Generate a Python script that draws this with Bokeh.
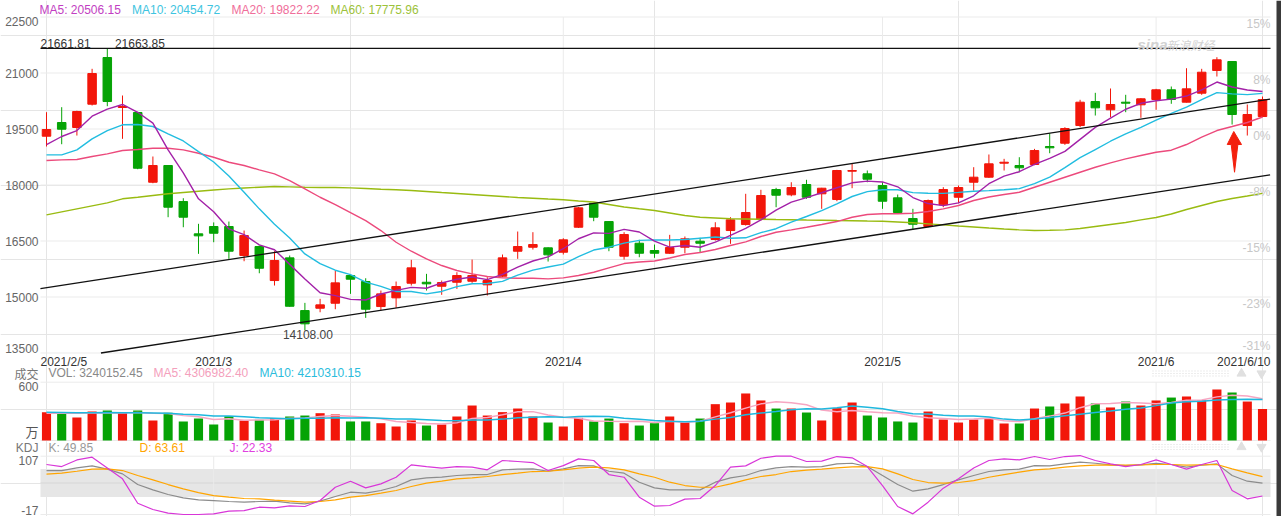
from bokeh.plotting import figure
from bokeh.models import Range1d, Label, ColumnDataSource
from bokeh.embed import file_html
from bokeh.resources import INLINE

# ---------------- data ----------------
dates = ["2021-02-05","2021-02-08","2021-02-09","2021-02-10","2021-02-18","2021-02-19","2021-02-22","2021-02-23","2021-02-24","2021-02-25","2021-02-26",
         "2021-03-01","2021-03-02","2021-03-03","2021-03-04","2021-03-05","2021-03-08","2021-03-09","2021-03-10","2021-03-11","2021-03-12","2021-03-15","2021-03-16","2021-03-17","2021-03-18","2021-03-19","2021-03-22","2021-03-23","2021-03-24","2021-03-25","2021-03-26","2021-03-29","2021-03-30","2021-03-31",
         "2021-04-01","2021-04-02","2021-04-06","2021-04-07","2021-04-08","2021-04-09","2021-04-12","2021-04-13","2021-04-14","2021-04-15","2021-04-16","2021-04-19","2021-04-20","2021-04-21","2021-04-22","2021-04-23","2021-04-26","2021-04-27","2021-04-28","2021-04-29","2021-04-30",
         "2021-05-06","2021-05-07","2021-05-10","2021-05-11","2021-05-12","2021-05-13","2021-05-14","2021-05-17","2021-05-18","2021-05-19","2021-05-20","2021-05-21","2021-05-24","2021-05-25","2021-05-26","2021-05-27","2021-05-28","2021-05-31",
         "2021-06-01","2021-06-02","2021-06-03","2021-06-04","2021-06-07","2021-06-08","2021-06-09","2021-06-10"]

open_p = [19307,19674,19540,20164,21415,20076,19942,18074,18522,17557,16692,16888,16888,16111,16352,15441,16049,14637,14699,14833,
          15575,15414,14744,14977,15369,15395,15288,15395,15422,15326,15556,16226,16333,16317,16199,16869,17512,17021,16092,16440,
          16245,16172,16333,16494,16540,16780,16941,17075,17879,17737,18013,17764,17611,18369,18299,17986,17656,17102,16888,17469,
          17672,18074,18209,18584,18522,18549,19031,19119,19593,20236,20014,20218,20148,20290,20550,20218,20459,21067,21308,19593,19834]
high_p = [19950,20084,19990,21112,21663.85,20397,19960,18763,18530,17646,16960,16998,17021,16780,16380,16226,16111,14843,14951,15709,
          15590,15502,15173,15414,15995,15620,15441,15664,16003,15530,16138,16754,16736,16330,16574,17410,17520,17030,16736,16531,
          16405,16665,16620,16585,17003,17137,17764,17871,17924,18074,18139,17924,18406,18567,18388,18074,17745,17362,17611,17941,
          17986,18477,18817,18701,18744,18968,19387,19548,20282,20469,20585,20416,20325,20576,20638,21128,21112,21423,21315,20156,20370]
low_p = [19031,19092,19325,20129,20110,19237,18423,18047,17137,16869,16156,16467,16022,15958,15636,15307,14740,14108.00,14591,14672,
         15084,14442,14637,14710,15307,15173,15058,15218,15379,15039,15530,16022,16271,15950,16138,16850,17030,16226,16003,16065,
         16049,16156,16172,16199,16512,16424,16914,17048,17405,17699,17630,17362,17566,17914,18074,17362,17228,16807,16869,17405,
         17512,17852,18191,18388,18342,18530,18851,19075,19548,19861,19816,19950,19800,20014,20175,20210,20416,20906,19620,19325,19816]
close_p = [19486,19494,19968,20986,20236,20102,18449,18522,17405,17137,16638,16708,16226,16646,15770,15977,14752,14281,14790,15379,
           15476,14672,15084,15280,15781,15352,15387,15575,15575,15441,16049,16352,16405,16129,16531,17388,17137,16333,16673,16172,
           16172,16325,16558,16440,16853,17067,17263,17718,17726,17932,17672,17914,18388,18388,18155,17565,17263,16949,17584,17879,
           17932,18209,18567,18610,18460,18923,18996,19513,20218,20067,20156,20191,20309,20550,20290,20576,21021,21353,19888,19888,20290]

ma5 = [19084,19299,19459,19842,20034,20157,19948,19659,18943,18323,17630,17282,16823,16671,16398,16265,15874,15485,15114,15036,
       14936,14920,15080,15178,15259,15234,15377,15475,15534,15466,15605,15798,15964,16075,16293,16561,16718,16704,16812,16741,
       16497,16335,16380,16333,16470,16649,16836,17068,17325,17541,17662,17792,17926,18059,18103,18082,17952,17664,17503,17448,
       17521,17711,18034,18239,18356,18554,18711,18900,19222,19543,19790,20029,20188,20255,20299,20383,20549,20758,20626,20545,20506.15]
ma10 = [18808,18808,18942,19237,19459,19612,19620,19567,19371,19179,18894,18615,18241,17807,17361,16948,16578,16154,15893,15717,
        15601,15397,15283,15146,15148,15085,15149,15278,15356,15363,15420,15588,15720,15805,15880,16083,16258,16334,16444,16517,
        16529,16527,16542,16573,16606,16573,16586,16724,16829,17006,17156,17314,17497,17692,17822,17872,17872,17795,17781,17776,
        17802,17832,17849,17871,17902,18038,18211,18467,18731,18950,19172,19370,19544,19739,19921,20087,20289,20473,20441,20422,20454.72]
ma20 = [18656,18674,18682,18763,18835,18923,18950,18985,18985,18942,18851,18744,18610,18522,18406,18299,18120,17898,17672,17477,
        17263,17048,16780,16467,16226,16022,15843,15709,15620,15548,15513,15502,15502,15486,15513,15575,15663,15781,15896,15936,
        15963,16044,16138,16191,16271,16379,16478,16620,16735,16799,16869,16941,17021,17137,17209,17228,17228,17244,17289,17362,
        17450,17584,17678,17745,17806,17940,18074,18208,18342,18476,18594,18701,18790,18878,18932,19084,19280,19459,19566,19674,19822.22]
ma60 = [17201,17281,17362,17442,17522,17630,17672,17718,17764,17798,17833,17865,17897,17919,17940,17959,17951,17940,17932,17932,
        17924,17906,17887,17871,17852,17825,17798,17772,17745,17718,17691,17664,17646,17624,17603,17571,17544,17477,17410,17362,
        17316,17249,17182,17137,17115,17094,17088,17083,17075,17070,17062,17056,17048,17043,17035,17030,17008,16987,16960,16933,
        16901,16874,16847,16821,16799,16780,16788,16799,16834,16888,16941,16995,17067,17129,17222,17343,17450,17557,17638,17705,17775.96]

volume_wan = [292,285,237,298,309,285,309,206,285,196,226,165,250,206,213,230,247,257,281,268,
              196,196,178,144,206,154,165,247,360,257,292,329,247,185,144,233,196,226,178,154,
              178,247,189,226,374,391,484,412,329,329,288,206,333,391,257,237,196,185,298,216,
              185,216,226,175,175,329,350,381,453,381,340,401,360,412,442,453,412,525,494,401,324.02]
vol_ma5 = [280,282,280,282,284,283,288,281,279,256,244,216,224,209,212,213,229,231,246,257,
           250,240,224,196,184,176,169,183,226,237,264,297,297,262,239,228,201,197,195,197,
           186,197,189,199,243,285,333,377,398,389,368,313,297,309,295,285,283,253,235,226,
           216,220,228,204,195,224,251,282,338,379,381,391,387,379,391,414,416,449,465,457,430.70]
vol_ma10 = [290,288,286,286,287,285,286,284,280,270,264,252,253,244,234,229,223,228,228,235,
            232,235,228,221,221,213,205,204,211,211,220,233,240,244,238,246,249,247,229,218,
            207,199,193,197,220,236,265,283,299,316,327,323,337,354,342,327,298,275,272,261,
            251,252,241,220,211,220,236,255,271,287,303,321,335,359,385,398,404,418,422,424,421.03]

kdj_k = [76.5,76.5,82,86.4,79.4,69.4,46.7,35.4,25.5,18.4,14,12.7,10.6,9.2,10.6,11.3,7.8,5.6,11.3,21.2,
         30.4,28.3,34,42.5,56.7,61,62.3,65.9,68,68,78,79.4,80,75,80,87,86.4,75,70.8,51.7,
         39.7,35.4,35.4,35.4,51.7,61,65.9,76.5,82,85,83.6,85,90.7,92,85,65.9,46.7,32.6,37.5,46.7,
         56.7,65.9,74.4,78,79.4,87,86.4,90.7,94.2,92,88.6,87,88.6,92,89.3,83.6,87.9,90.7,65.9,53.8,49.85]
kdj_d = [68.7,70.8,75,79.4,80,76.5,65.9,56.7,46.7,37.5,29.7,23.3,19.8,17,16.3,13.4,11.3,9.2,10.6,14,
         19.8,23.3,28.3,34,42.5,49.6,53.8,58.8,61,63.8,68,70.8,74.4,75,78,81.5,83.6,82,78,69.4,
         62.3,51.7,44.6,41,41,48,56.7,63.8,68,74.4,77.2,79.4,82,84.3,85,80,69.4,57.4,51,49.6,
         51,55.2,62.3,68,73,78,80,83.6,86.4,87.9,88.6,87.9,88.6,89.3,89.3,87.9,88.6,89.3,80,71.6,63.61]
kdj_j = [89.3,85,99,105,82,58.8,7,-6.4,-14.2,-17,-17,-15.6,-10,-8.6,-1.5,-3,1.4,0,12.7,41,
         53.8,39.7,48.2,62.3,88.6,85,81.5,85,83.6,78,97.8,95.7,93.5,76.5,87,101.3,97.8,68,62.3,19.8,
         0.7,2.1,15.6,17,44.6,83.6,86.4,102.7,107,107,95.7,96.4,106.3,103.5,85,44.6,0,-15.6,9.2,39,
         58.8,82,97.8,101.3,99.2,106.3,100,106.3,108.4,97.8,90.7,85,89.3,99.2,89.3,79.4,89.3,97.8,34,16.3,22.33]

price_ticks = [22500, 21000, 19500, 18000, 16500, 15000, 13500]
pct_labels = ["15%", "8%", "0%", "-8%", "-15%", "-23%", "-31%"]
vol_ticks = [600, 0]
vol_tick_labels = ["600", "万"]
kdj_ticks = [107, -17]
kdj_band = [20, 80]
kdj_mid = 50

ma_names = ["MA5", "MA10", "MA20", "MA60"]
ma_last = [20506.15, 20454.72, 19822.22, 17775.96]
vol_last, vol_ma5_last, vol_ma10_last = 3240152.45, 4306982.40, 4210310.15
k_last, d_last, j_last = 49.85, 63.61, 22.33
hline_value = 21661.81
upper_x, upper_y = [-0.4, 80.5], [15227, 20298]
lower_x, lower_y = [3.58, 80.5], [13500, 18273]
arrow_x = [78.11, 78.62, 78.38, 78.16, 77.94, 77.68]
arrow_y = [19433, 19084, 19084, 18342, 19084, 19084]

# ---------------- layout ----------------
RED, GREEN = "#f2160a", "#05a305"
LAT, CJK = "Liberation Sans", "Noto Sans CJK SC"
W, H = 1281, 516
OX, OY = 0, 0
X0, DX = 46.0, 15.2


def xi(px):
    return (px - X0) / DX


def vrange(v1, y1, v2, y2):
    k = (v1 - v2) / (y2 - y1)
    return Range1d(v2 - (OY + H - y2) * k, v1 + (y1 - OY) * k)


p = figure(width=W, height=H, x_range=Range1d(xi(OX), xi(OX + W)),
           y_range=vrange(22500, 16.5, 13500, 352.5),
           output_backend="svg", toolbar_location=None,
           x_axis_location=None, y_axis_location=None, min_border=0)
p.outline_line_color = None
p.extra_y_ranges = {"vol": vrange(600, 381.7, 0, 440),
                    "kdj": vrange(107, 455.7, -17, 514),
                    "px": Range1d(OY + H, OY)}
p.extra_x_ranges = {"px": Range1d(OX, OX + W)}

GX0, GX1 = xi(40), xi(1270)
n = len(dates)
idx = list(range(n))
GRID = "#ebebeb"

# horizontal grids
p.segment(x0=[GX0] * len(price_ticks), x1=[GX1] * len(price_ticks), y0=price_ticks, y1=price_ticks, color=GRID, line_width=1)
p.segment(x0=[GX0] * 2, x1=[GX1] * 2, y0=vol_ticks, y1=vol_ticks, color=GRID, line_width=1, y_range_name="vol")
p.quad(left=[GX0], right=[GX1], bottom=[kdj_band[0]], top=[kdj_band[1]], fill_color="#e6e6e6", line_color=None, y_range_name="kdj")
p.segment(x0=[GX0], x1=[GX1], y0=[kdj_mid], y1=[kdj_mid], color="#d6d6d6", line_width=1, y_range_name="kdj")
p.segment(x0=[GX0] * 2, x1=[GX1] * 2, y0=kdj_ticks, y1=kdj_ticks, color=GRID, line_width=1, y_range_name="kdj")

# month gridlines
month_idx = [i for i in range(1, n) if dates[i][5:7] != dates[i - 1][5:7]]
m = len(month_idx)
p.segment(x0=month_idx, x1=month_idx, y0=[price_ticks[-1]] * m, y1=[price_ticks[0]] * m, color=GRID)
p.segment(x0=month_idx, x1=month_idx, y0=[0] * m, y1=[600] * m, color=GRID, y_range_name="vol")
p.segment(x0=month_idx, x1=month_idx, y0=[-17] * m, y1=[107] * m, color=GRID, y_range_name="kdj")

# candles
colors = [RED if c >= o else GREEN for o, c in zip(open_p, close_p)]
src = ColumnDataSource(dict(x=idx, h=high_p, l=low_p,
                            top=[max(o, c) for o, c in zip(open_p, close_p)],
                            bot=[min(o, c) for o, c in zip(open_p, close_p)],
                            color=colors, vol=volume_wan))
p.segment(x0="x", x1="x", y0="l", y1="h", color="color", line_width=1, source=src)
p.vbar(x="x", width=0.56, top="top", bottom="bot", fill_color="color", line_color="color", line_width=1, source=src)

# MA lines
p.line(idx, ma60, color="#99bb11", line_width=1.4)
p.line(idx, ma20, color="#ec4a7c", line_width=1.4)
p.line(idx, ma10, color="#22bde0", line_width=1.4)
p.line(idx, ma5, color="#a321a8", line_width=1.4)

# trend lines / horizontal line
p.line(upper_x, upper_y, color="#111111", line_width=1.3)
p.line(lower_x, lower_y, color="#111111", line_width=1.3)
p.line([GX0, GX1], [hline_value, hline_value], color="#111111", line_width=1.3)

# arrow
p.patch(arrow_x, arrow_y, color="#f3200d")

# volume
p.vbar(x="x", width=0.6, top="vol", bottom=0, fill_color="color", line_color=None, source=src, y_range_name="vol")
p.line(idx, vol_ma5, color="#f7a6c2", line_width=1.5, y_range_name="vol")
p.line(idx, vol_ma10, color="#1fb8de", line_width=1.5, y_range_name="vol")

# KDJ
p.line(idx, kdj_k, color="#8c8c8c", line_width=1.2, y_range_name="kdj")
p.line(idx, kdj_d, color="#ffa500", line_width=1.2, y_range_name="kdj")
p.line(idx, kdj_j, color="#d836d8", line_width=1.2, y_range_name="kdj")

# panel controls (top-right of sub panels)
for yy in (373.0, 446.5):
    for dy in (-2.5, 0, 2.5):
        p.line([1152, 1228], [yy + dy, yy + dy], color="#dadada", line_width=1, line_dash="1 2",
               x_range_name="px", y_range_name="px")
    p.scatter([1241], [yy], marker="triangle", size=9, color="#e0e0e0", x_range_name="px", y_range_name="px")
    p.scatter([1261], [yy], marker="inverted_triangle", size=9, color="#e0e0e0", x_range_name="px", y_range_name="px")

# dark right edge bar
p.quad(left=[1276], right=[1281], top=[0], bottom=[516], fill_color="#3a3a3a", line_color=None,
       x_range_name="px", y_range_name="px")


def label(text, x, y, xr="px", yr="px", color="#666666", size=12, align="left",
          baseline="middle", font=LAT, style="normal"):
    p.add_layout(Label(x=x, y=y, x_range_name=xr, y_range_name=yr, text=text,
                       text_color=color, text_font_size=f"{size}px", text_align=align,
                       text_baseline=baseline, text_font=font, text_font_style=style))


# price axis labels (left) and percent labels (right)
for i, (t, pc) in enumerate(zip(price_ticks, pct_labels)):
    bl = "top" if i == 0 else ("bottom" if i == len(price_ticks) - 1 else "middle")
    label(str(t), 38, t, yr="default", align="right", baseline=bl, color="#666666")
    label(pc, 1270, t, yr="default", align="right", baseline="bottom" if i == len(price_ticks) - 1 else "top",
          color="#c8c8c8")

# date labels
def dlabel(d, full):
    y, mo, da = d.split("-")
    return f"{int(y)}/{int(mo)}/{int(da)}" if full else f"{int(y)}/{int(mo)}"

DATE_Y = 361
label(dlabel(dates[0], True), GX0, DATE_Y, xr="default", color="#333333")
for i in month_idx:
    label(dlabel(dates[i], False), i, DATE_Y, xr="default", align="center", color="#333333")
label(dlabel(dates[-1], True), GX1, DATE_Y, xr="default", align="right", color="#333333")

# volume / kdj axis labels
label(vol_tick_labels[0], 38, vol_ticks[0], yr="vol", align="right", baseline="top")
label(vol_tick_labels[1], 38, vol_ticks[1], yr="vol", align="right", baseline="bottom", font=CJK, size=13, color="#555555")
label(str(kdj_ticks[0]), 38, kdj_ticks[0], yr="kdj", align="right", baseline="top")
label(str(kdj_ticks[1]), 38, kdj_ticks[1], yr="kdj", align="right", baseline="bottom")

# top legend
ma_colors = ["#c23ec2", "#3ec4e0", "#f06e9a", "#9cc23a"]
for name, val, col, xx in zip(ma_names, ma_last, ma_colors, [39, 131.5, 231, 330]):
    label(f"{name}: {val:.2f}", xx, 9.5, color=col)

# volume legend
VL_Y = 372.5
label("成交", 38, VL_Y, align="right", font=CJK, color="#777777")
label(f"VOL: {vol_last:.2f}", 48, VL_Y, color="#888888")
label(f"MA5: {vol_ma5_last:.2f}", 153, VL_Y, color="#f4a0bc")
label(f"MA10: {vol_ma10_last:.2f}", 259, VL_Y, color="#2bbcdc")

# kdj legend
KL_Y = 447.3
label("KDJ", 38, KL_Y, align="right", color="#777777")
label(f"K: {k_last:.2f}", 48, KL_Y, color="#999999")
label(f"D: {d_last:.2f}", 139, KL_Y, color="#ffa500")
label(f"J: {j_last:.2f}", 229, KL_Y, color="#e040e0")

# annotations
label(f"{hline_value:.2f}", GX0, hline_value, xr="default", yr="default", baseline="bottom", color="#333333")
imax = high_p.index(max(high_p))
label(f"{max(high_p):.2f}", imax + 0.5, max(high_p), xr="default", yr="default", baseline="bottom", color="#333333")
imin = low_p.index(min(low_p))
label(f"{min(low_p):.2f}", imin + 0.2, min(low_p), xr="default", yr="default", align="center", baseline="top", color="#444444")

# watermark
label("sina", 1137, 44, color="#d2d2d2", size=15, style="bold italic")
label("新浪财经", 1166, 44, color="#d2d2d2", size=12, font=CJK, style="italic")

open("out.html", "w").write(file_html(p, INLINE))
